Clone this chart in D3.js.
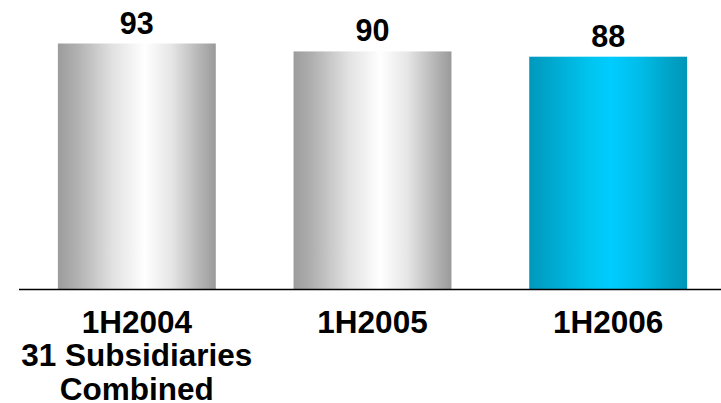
<!DOCTYPE html>
<html>
<head>
<meta charset="utf-8">
<script src="https://cdn.jsdelivr.net/npm/d3@7"></script>
<style>
  html, body { margin: 0; padding: 0; background: #fff; }
  svg { display: block; }
  text { font-family: "Liberation Sans", Arial, sans-serif; font-weight: bold; fill: #000; }
</style>
</head>
<body>
<svg id="chart" width="721" height="403"></svg>
<script>
// Half-year periods and the value for each
const periods = ["1H2004", "1H2005", "1H2006"];
const values = [93, 90, 88];
// Category label lines under each bar
const labelLines = [
  ["1H2004", "31 Subsidiaries", "Combined"],
  ["1H2005"],
  ["1H2006"]
];
// Which gradient fills each bar
const barStyles = ["grey", "grey", "blue"];

const width = 721, height = 403;
const baseline = 289;

const svg = d3.select("#chart");

const x = d3.scaleBand()
  .domain(periods)
  .range([19, 726])
  .paddingInner(0.33)
  .paddingOuter(0.165);

const y = d3.scaleLinear()
  .domain([0, 93])
  .range([baseline, 43.5]);

// Horizontal cylinder-like shading
const defs = svg.append("defs");
const gradStops = {
  grey: [
    [0, "#9c9c9c"], [0.12, "#b0b0b0"], [0.35, "#e2e2e2"], [0.55, "#ffffff"],
    [0.72, "#e6e6e6"], [0.9, "#b4b4b4"], [1, "#9a9a9a"]
  ],
  blue: [
    [0, "#0098bd"], [0.15, "#00a9cf"], [0.38, "#00c4ef"], [0.52, "#00ccff"],
    [0.7, "#00bde8"], [0.88, "#00a4c8"], [1, "#0096b8"]
  ]
};
Object.entries(gradStops).forEach(([name, stops]) => {
  const g = defs.append("linearGradient")
    .attr("id", "grad-" + name)
    .attr("x1", "0%").attr("x2", "100%").attr("y1", "0%").attr("y2", "0%");
  stops.forEach(([o, c]) => g.append("stop").attr("offset", o).attr("stop-color", c));
});

// Bars
svg.append("g")
  .selectAll("rect")
  .data(periods)
  .join("rect")
  .attr("x", d => x(d))
  .attr("width", x.bandwidth())
  .attr("y", (d, i) => y(values[i]))
  .attr("height", (d, i) => baseline - y(values[i]))
  .attr("fill", (d, i) => `url(#grad-${barStyles[i]})`);

// Value labels above bars
svg.append("g")
  .selectAll("text")
  .data(periods)
  .join("text")
  .attr("x", d => x(d) + x.bandwidth() / 2)
  .attr("y", (d, i) => y(values[i]) - 10)
  .attr("text-anchor", "middle")
  .style("font-size", "30.5px")
  .text((d, i) => values[i]);

// Baseline axis
const axis = d3.axisBottom(x).tickSize(0).tickFormat("");
const axisG = svg.append("g")
  .attr("transform", `translate(0,${baseline})`)
  .call(axis);
axisG.select(".domain")
  .attr("d", `M19,0.5H${width}`)
  .attr("stroke", "#000")
  .attr("stroke-width", 1.5);

// Category labels
const cat = svg.append("g")
  .selectAll("text")
  .data(periods)
  .join("text")
  .attr("text-anchor", "middle")
  .attr("x", d => x(d) + x.bandwidth() / 2)
  .attr("y", 332.5)
  .style("font-size", "31.5px");
cat.each(function(d, i) {
  const t = d3.select(this);
  labelLines[i].forEach((line, j) => {
    t.append("tspan")
      .attr("x", x(d) + x.bandwidth() / 2)
      .attr("dy", j === 0 ? 0 : 33.5)
      .text(line);
  });
});
</script>
</body>
</html>
